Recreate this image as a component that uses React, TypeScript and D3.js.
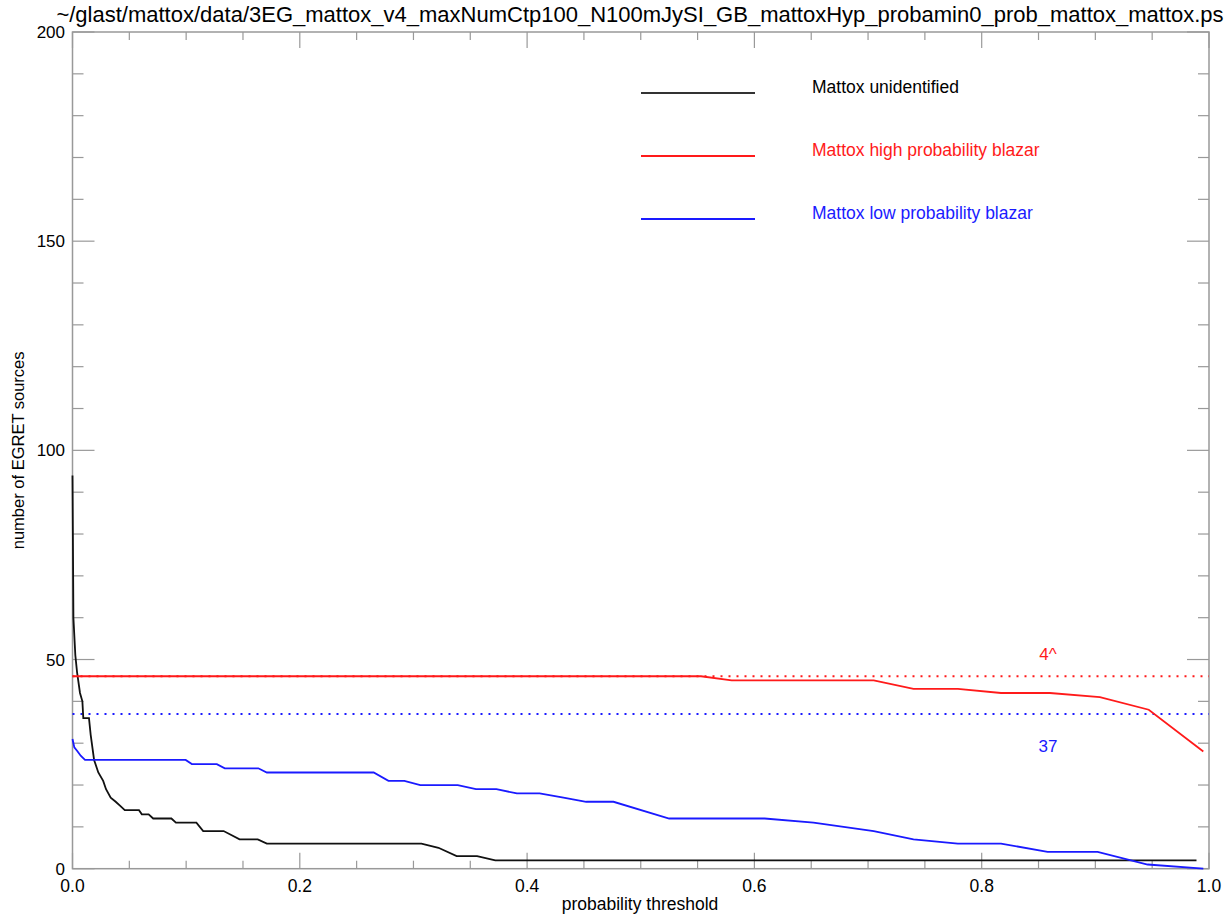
import React from "react";
import * as d3 from "d3";

const TITLE =
  "~/glast/mattox/data/3EG_mattox_v4_maxNumCtp100_N100mJySI_GB_mattoxHyp_probamin0_prob_mattox_mattox.ps";

// probability threshold values and source counts for each series
const unidentifiedProb = [
  0.0, 0.0008, 0.0025, 0.004, 0.0066, 0.0087, 0.0095, 0.0145, 0.016, 0.019, 0.0227, 0.027,
  0.0295, 0.0336, 0.038, 0.042, 0.046, 0.0585, 0.061, 0.067, 0.071, 0.087, 0.091, 0.109,
  0.115, 0.133, 0.147, 0.163, 0.171, 0.307, 0.322, 0.338, 0.356, 0.372, 0.989,
];
const unidentifiedCount = [
  94, 60, 51, 47, 42, 40, 36, 36, 32, 26, 23, 21, 19, 17, 16, 15, 14, 14, 13, 13, 12, 12,
  11, 11, 9, 9, 7, 7, 6, 6, 5, 3, 3, 2, 2,
];

const highProb = [0.0, 0.553, 0.58, 0.705, 0.74, 0.779, 0.817, 0.86, 0.904, 0.947, 0.995];
const highCount = [46, 46, 45, 45, 43, 43, 42, 42, 41, 38, 28];

const lowProb = [
  0.0, 0.0016, 0.0045, 0.0072, 0.011, 0.0996, 0.105, 0.127, 0.134, 0.1635, 0.171, 0.265,
  0.278, 0.292, 0.306, 0.339, 0.355, 0.373, 0.391, 0.411, 0.432, 0.452, 0.476, 0.525, 0.609,
  0.652, 0.705, 0.74, 0.779, 0.817, 0.858, 0.902, 0.946, 0.995,
];
const lowCount = [
  31, 29, 28, 27, 26, 26, 25, 25, 24, 24, 23, 23, 21, 21, 20, 20, 19, 19, 18, 18, 17, 16, 16,
  12, 12, 11, 9, 7, 6, 6, 4, 4, 1, 0,
];

const highTotal = 46;
const highTotalLabel = "4^";
const lowTotal = 37;
const lowTotalLabel = "37";

const legendLabels = [
  "Mattox unidentified",
  "Mattox high probability blazar",
  "Mattox low probability blazar",
];

const xMajorTicks = [0, 0.2, 0.4, 0.6, 0.8, 1.0];
const yMajorTicks = [0, 50, 100, 150, 200];

const BLACK = "#111";
const RED = "#ff1a1a";
const BLUE = "#1a1aff";
const AXIS = "#999";
const FONT = "'Liberation Sans', Arial, Helvetica, sans-serif";

export default function App() {
  const W = 1228;
  const H = 916;
  const left = 72.5;
  const right = 1209;
  const top = 32;
  const bottom = 868.7;

  const x = d3.scaleLinear().domain([0, 1]).range([left, right]);
  const y = d3.scaleLinear().domain([0, 200]).range([bottom, top]);

  const line = d3
    .line<[number, number]>()
    .x((d) => x(d[0]))
    .y((d) => y(d[1]));

  const zip = (a: number[], b: number[]) => a.map((v, i) => [v, b[i]] as [number, number]);

  const xMinor = d3.range(0, 1.0001, 0.05);
  const yMinor = d3.range(0, 200.001, 10);
  const isMajorX = (v: number) => xMajorTicks.some((m) => Math.abs(m - v) < 1e-6);
  const isMajorY = (v: number) => yMajorTicks.some((m) => Math.abs(m - v) < 1e-6);

  const legendColors = ["#333", RED, BLUE];
  const legendY = [93, 156, 219];

  return (
    <svg
      width={W}
      height={H}
      style={{ position: "absolute", left: 0, top: 0, background: "#fff" }}
      fontFamily={FONT}
    >
      <rect width={W} height={H} fill="#fff" />
      <text x={640} y={22} fontSize={22} textAnchor="middle" fill="#000">
        {TITLE}
      </text>

      {/* frame */}
      <rect x={left} y={top} width={right - left} height={bottom - top} fill="none" stroke={AXIS} strokeWidth={1.5} />

      {/* x ticks on bottom and top */}
      {xMinor.map((v) => {
        const len = isMajorX(v) ? 16 : 8;
        return (
          <g key={"xt" + v}>
            <line x1={x(v)} x2={x(v)} y1={bottom} y2={bottom - len} stroke={AXIS} strokeWidth={1.2} />
            <line x1={x(v)} x2={x(v)} y1={top} y2={top + len} stroke={AXIS} strokeWidth={1.2} />
          </g>
        );
      })}
      {xMajorTicks.map((v) => (
        <text key={"xl" + v} x={x(v)} y={892} fontSize={17.5} textAnchor="middle" fill="#000">
          {v.toFixed(1)}
        </text>
      ))}

      {/* y ticks on left and right */}
      {yMinor.map((v) => {
        const len = isMajorY(v) ? 22 : 11;
        return (
          <g key={"yt" + v}>
            <line x1={left} x2={left + len} y1={y(v)} y2={y(v)} stroke={AXIS} strokeWidth={1.2} />
            <line x1={right} x2={right - len} y1={y(v)} y2={y(v)} stroke={AXIS} strokeWidth={1.2} />
          </g>
        );
      })}
      {yMajorTicks.map((v) => (
        <text key={"yl" + v} x={65} y={y(v) + 6} fontSize={17} textAnchor="end" fill="#000">
          {v}
        </text>
      ))}

      <text x={640} y={910} fontSize={17.5} textAnchor="middle" fill="#000">
        probability threshold
      </text>
      <text
        transform={`translate(24, ${(top + bottom) / 2}) rotate(-90)`}
        fontSize={16.5}
        textAnchor="middle"
        fill="#000"
      >
        number of EGRET sources
      </text>

      {/* total reference levels */}
      <line x1={left} x2={right} y1={y(highTotal)} y2={y(highTotal)} stroke={RED} strokeWidth={2} strokeDasharray="2 6" />
      <line x1={left} x2={right} y1={y(lowTotal)} y2={y(lowTotal)} stroke={BLUE} strokeWidth={2} strokeDasharray="2 6" />
      <text x={1048} y={y(highTotal) - 16} fontSize={17} textAnchor="middle" fill={RED}>
        {highTotalLabel}
      </text>
      <text x={1048} y={y(lowTotal) + 38} fontSize={17} textAnchor="middle" fill={BLUE}>
        {lowTotalLabel}
      </text>

      {/* series */}
      <path d={line(zip(unidentifiedProb, unidentifiedCount)) || ""} fill="none" stroke={BLACK} strokeWidth={1.8} />
      <path d={line(zip(highProb, highCount)) || ""} fill="none" stroke={RED} strokeWidth={1.8} />
      <path d={line(zip(lowProb, lowCount)) || ""} fill="none" stroke={BLUE} strokeWidth={1.8} />

      {/* legend */}
      {legendLabels.map((label, i) => (
        <g key={label}>
          <line x1={641} x2={755} y1={legendY[i]} y2={legendY[i]} stroke={legendColors[i]} strokeWidth={2} />
          <text x={812} y={legendY[i]} fontSize={17.5} fill={i === 0 ? "#000" : legendColors[i]}>
            {label}
          </text>
        </g>
      ))}
    </svg>
  );
}
